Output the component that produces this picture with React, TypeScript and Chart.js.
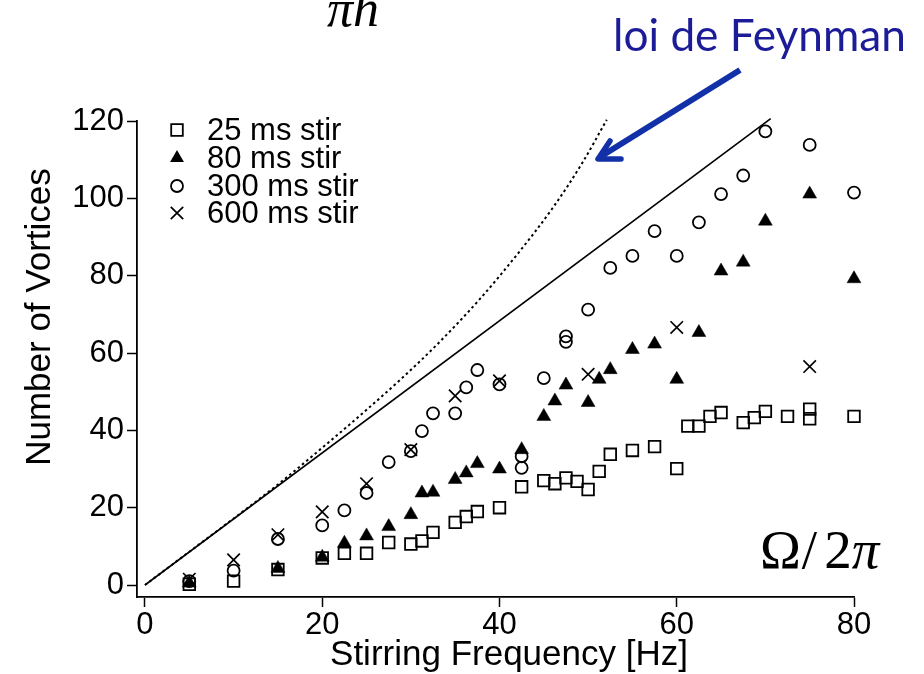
import React, { useEffect, useRef } from "react";
import { Chart, registerables } from "chart.js";

Chart.register(...registerables);

// ---- data ----
const sq25X = [5, 10, 15, 20, 22.5, 25, 27.5, 30, 31.25, 32.5, 35, 36.25, 37.5, 40, 42.5, 45, 46.25, 47.5, 48.75, 50, 51.25, 52.5, 55, 57.5, 60, 61.25, 62.5, 63.75, 65, 67.5, 68.75, 70, 72.5, 75, 75, 80];
const sq25Y = [0.2, 1, 4, 7, 8.2, 8.2, 11, 10.6, 11.4, 13.6, 16.2, 17.7, 19, 20, 25.4, 27, 26.2, 27.7, 26.8, 24.7, 29.4, 33.8, 34.8, 35.8, 30.1, 41.1, 41.1, 43.6, 44.6, 42, 43.3, 44.9, 43.6, 45.5, 43, 43.6];

const tri80X = [5, 15, 20, 22.5, 25, 27.5, 30, 31.25, 32.5, 35, 36.25, 37.5, 40, 42.5, 45, 46.25, 47.5, 50, 51.25, 52.5, 55, 57.5, 60, 62.5, 65, 67.5, 70, 75, 80];
const tri80Y = [0.5, 4.3, 7.2, 10.8, 12.7, 15.1, 18.2, 23.8, 24, 27.3, 29, 31.4, 30, 35, 43.6, 47.6, 51.7, 47.2, 53.2, 55.7, 60.9, 62.3, 53.2, 65.3, 81.2, 83.5, 94.1, 101.1, 79.2];

const c300X = [5, 10, 15, 20, 22.5, 25, 27.5, 30, 31.25, 32.5, 35, 36.25, 37.5, 40, 42.5, 42.5, 45, 47.5, 47.5, 50, 52.5, 55, 57.5, 60, 62.5, 65, 67.5, 70, 75, 80];
const c300Y = [1, 3.7, 11.9, 15.4, 19.3, 23.8, 31.8, 34.6, 39.8, 44.4, 44.4, 51.1, 55.6, 51.9, 33.3, 30.3, 53.5, 64.3, 62.9, 71.2, 82, 85.1, 91.5, 85.1, 93.8, 101.1, 105.9, 117.3, 113.8, 101.5];

const x600X = [5, 10, 15, 20, 25, 30, 35, 40, 50, 60, 75];
const x600Y = [1.5, 6.5, 13, 18.9, 26.2, 35, 48.9, 52.8, 54.5, 66.6, 56.5];

const feynLineX = [0, 70.6];
const feynLineY = [0, 120.6];

const feynCurveX = [0, 5, 10, 15, 20, 25, 29, 33, 37.8, 42, 46, 49.3, 52.1];
const feynCurveY = [0, 8.6, 17.2, 26, 35.5, 45.3, 53.5, 62.3, 74, 85.5, 97.5, 109, 120.3];

const xTicks = [0, 20, 40, 60, 80];
const yTicks = [0, 20, 40, 60, 80, 100, 120];
const xTitle = "Stirring Frequency [Hz]";
const yTitle = "Number of Vortices";
const legendLabels = ["25 ms stir", "80 ms stir", "300 ms stir", "600 ms stir"];
const legendStyles = ["rect", "triangle", "circle", "crossRot"];
const feynmanText = "loi de Feynman";
const topText = "πh";

const toPts = (xs: number[], ys: number[]) => xs.map((x, i) => ({ x, y: ys[i] }));

const SANS = "'Liberation Sans', Arial, Helvetica, sans-serif";
const SERIF = "'Liberation Serif', 'DejaVu Serif', serif";

const R_RECT = 8.2;
const R_TRI = 8;
const R_CIRC = 6;
const R_CROSS = 8.8;

function drawMarker(ctx: CanvasRenderingContext2D, style: string, x: number, y: number) {
  ctx.save();
  ctx.strokeStyle = "#000";
  ctx.fillStyle = "#000";
  ctx.beginPath();
  if (style === "rect") {
    const s = R_RECT * Math.SQRT1_2;
    ctx.lineWidth = 1.8;
    ctx.rect(x - s, y - s, 2 * s, 2 * s);
    ctx.stroke();
  } else if (style === "triangle") {
    const r = R_TRI;
    let a = 0;
    ctx.moveTo(x + Math.sin(a) * r, y - Math.cos(a) * r);
    a += (2 * Math.PI) / 3;
    ctx.lineTo(x + Math.sin(a) * r, y - Math.cos(a) * r);
    a += (2 * Math.PI) / 3;
    ctx.lineTo(x + Math.sin(a) * r, y - Math.cos(a) * r);
    ctx.closePath();
    ctx.fill();
  } else if (style === "circle") {
    ctx.lineWidth = 1.8;
    ctx.arc(x, y, R_CIRC, 0, Math.PI * 2);
    ctx.stroke();
  } else {
    const d = R_CROSS * Math.SQRT1_2;
    ctx.lineWidth = 1.7;
    ctx.moveTo(x - d, y - d);
    ctx.lineTo(x + d, y + d);
    ctx.moveTo(x - d, y + d);
    ctx.lineTo(x + d, y - d);
    ctx.stroke();
  }
  ctx.restore();
}

const annotPlugin = {
  id: "annot",
  afterDraw(chart: any) {
    const ctx: CanvasRenderingContext2D = chart.ctx;
    ctx.save();
    // legend
    ctx.font = `31px ${SANS}`;
    ctx.fillStyle = "#000";
    ctx.textBaseline = "middle";
    ctx.textAlign = "left";
    const rows = [130, 158, 186, 213];
    legendLabels.forEach((t, i) => {
      drawMarker(ctx, legendStyles[i], 177, rows[i]);
      ctx.fillText(t, 207, rows[i] + 1);
    });

    // axis titles
    ctx.font = `35px ${SANS}`;
    ctx.textAlign = "center";
    ctx.textBaseline = "alphabetic";
    ctx.fillText(xTitle, 509, 665);
    ctx.save();
    ctx.translate(50, 317);
    ctx.rotate(-Math.PI / 2);
    ctx.fillText(yTitle, 0, 0);
    ctx.restore();

    // top "πh"
    ctx.font = `italic 52px ${SERIF}`;
    ctx.textAlign = "center";
    ctx.fillText(topText, 353, 26);

    // Ω/2π
    ctx.textAlign = "left";
    ctx.font = `55px ${SERIF}`;
    let x = 760;
    const base = 568;
    ctx.fillText("Ω", x, base);
    x += ctx.measureText("Ω").width + 1;
    ctx.fillText("/", x, base);
    x += ctx.measureText("/").width + 7;
    ctx.fillText("2", x, base);
    x += ctx.measureText("2").width;
    ctx.font = `italic 55px ${SERIF}`;
    ctx.fillText("π", x, base);

    // loi de Feynman
    ctx.font = `40px Lato, 'Open Sans', sans-serif`;
    const w = ctx.measureText(feynmanText).width;
    const fs = (40 * 293) / w;
    ctx.font = `${fs}px Lato, 'Open Sans', sans-serif`;
    ctx.fillStyle = "#1c1c98";
    ctx.fillText(feynmanText, 613, 51);

    // arrow
    ctx.strokeStyle = "#1230a8";
    ctx.lineWidth = 6;
    ctx.lineCap = "butt";
    ctx.beginPath();
    ctx.moveTo(740, 70);
    ctx.lineTo(600, 157);
    ctx.stroke();
    ctx.lineCap = "round";
    ctx.lineJoin = "round";
    ctx.lineWidth = 5.5;
    ctx.beginPath();
    ctx.moveTo(610, 141);
    ctx.lineTo(598, 159);
    ctx.lineTo(621, 159);
    ctx.stroke();
    ctx.restore();
  },
};

export default function App() {
  const ref = useRef<HTMLCanvasElement>(null);
  useEffect(() => {
    const canvas = ref.current!;
    const tickFont = { family: SANS, size: 31 };
    const chart = new Chart(canvas, {
      type: "scatter",
      data: {
        datasets: [
          {
            label: legendLabels[3],
            data: toPts(x600X, x600Y),
            pointStyle: "crossRot",
            pointRadius: R_CROSS,
            borderColor: "#000",
            backgroundColor: "#000",
            borderWidth: 1.7,
            clip: false as any,
          },
          {
            label: legendLabels[1],
            data: toPts(tri80X, tri80Y),
            pointStyle: "triangle",
            pointRadius: R_TRI,
            borderColor: "#000",
            backgroundColor: "#000",
            borderWidth: 0.5,
            clip: false as any,
          },
          {
            label: legendLabels[2],
            data: toPts(c300X, c300Y),
            pointStyle: "circle",
            pointRadius: R_CIRC,
            borderColor: "#000",
            backgroundColor: "rgba(0,0,0,0)",
            borderWidth: 1.8,
            clip: false as any,
          },
          {
            label: legendLabels[0],
            data: toPts(sq25X, sq25Y),
            pointStyle: "rect",
            pointRadius: R_RECT,
            borderColor: "#000",
            backgroundColor: "rgba(0,0,0,0)",
            borderWidth: 1.8,
            clip: false as any,
          },
          {
            label: "Feynman",
            data: toPts(feynLineX, feynLineY),
            showLine: true,
            pointRadius: 0,
            borderColor: "#000",
            borderWidth: 1.6,
            clip: false as any,
          },
          {
            label: "Feynman curve",
            data: toPts(feynCurveX, feynCurveY),
            showLine: true,
            pointRadius: 0,
            borderColor: "#000",
            borderWidth: 2,
            borderDash: [2.5, 3],
            cubicInterpolationMode: "monotone",
            clip: false as any,
          },
        ],
      },
      options: {
        responsive: false,
        animation: false,
        devicePixelRatio: 1,
        layout: { padding: { top: 121, right: 70, left: 0, bottom: 0 } },
        plugins: { legend: { display: false }, tooltip: { enabled: false } },
        scales: {
          x: {
            type: "linear",
            min: -0.9,
            max: 80,
            afterBuildTicks: (s: any) => {
              s.ticks = xTicks.map((v) => ({ value: v }));
            },
            afterFit: (s: any) => {
              s.height = 77;
            },
            grid: { drawOnChartArea: false, drawTicks: true, tickLength: 10, tickWidth: 1.5, tickColor: "#000" },
            border: { display: true, color: "#000", width: 1.8 },
            ticks: { color: "#000", font: tickFont, padding: 0, maxRotation: 0, autoSkip: false },
          },
          y: {
            type: "linear",
            min: -3.1,
            max: 120,
            afterBuildTicks: (s: any) => {
              s.ticks = yTicks.map((v) => ({ value: v }));
            },
            afterFit: (s: any) => {
              s.width = 137;
            },
            grid: { drawOnChartArea: false, drawTicks: true, tickLength: 10, tickWidth: 1.5, tickColor: "#000" },
            border: { display: true, color: "#000", width: 1.8 },
            ticks: { color: "#000", font: tickFont, padding: 3, autoSkip: false },
          },
        },
      },
      plugins: [annotPlugin],
    });
    return () => chart.destroy();
  }, []);
  return (
    <div style={{ position: "fixed", left: 0, top: 0, width: 924, height: 674, background: "#fff" }}>
      <canvas ref={ref} width={924} height={674} style={{ width: 924, height: 674, display: "block" }} />
    </div>
  );
}
